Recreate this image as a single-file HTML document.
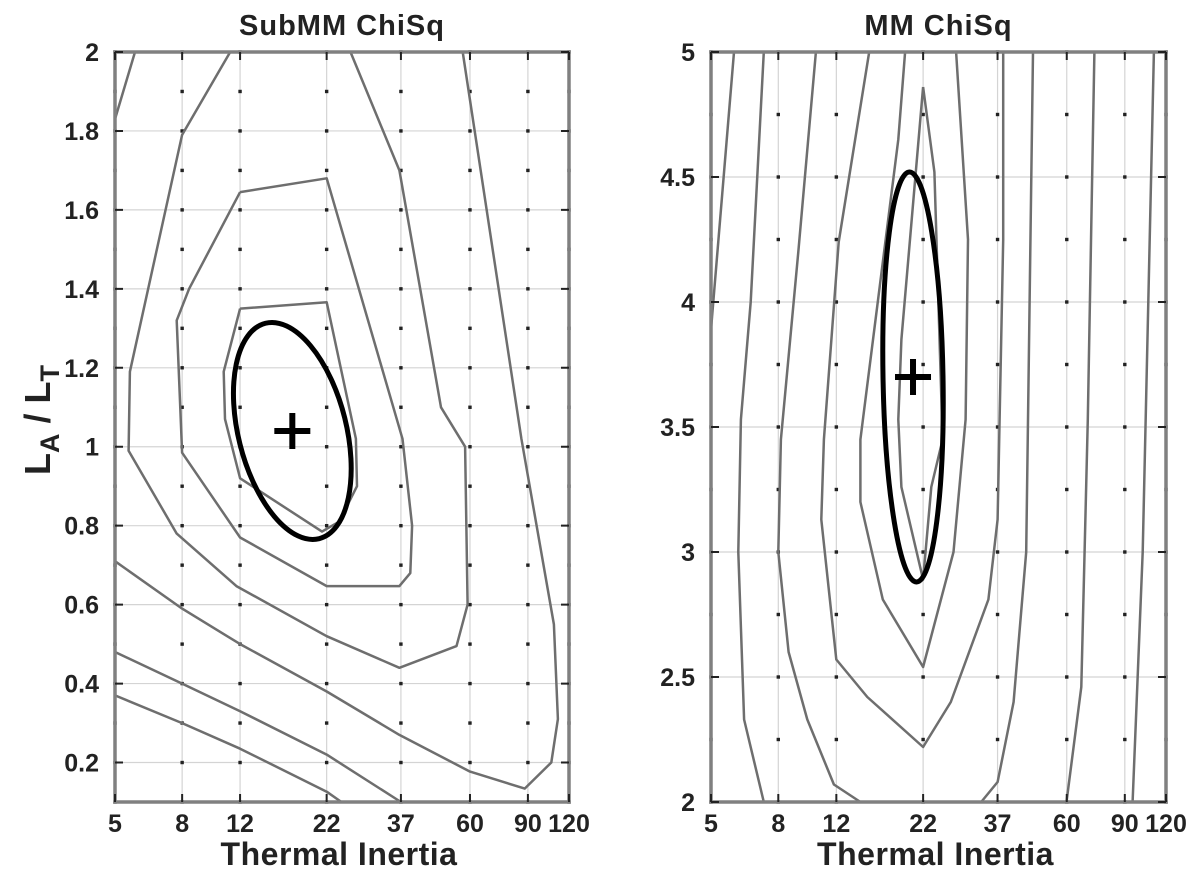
<!DOCTYPE html>
<html><head><meta charset="utf-8"><style>
html,body{margin:0;padding:0;background:#fff}
svg{display:block}
text{font-family:"Liberation Sans",Arial,sans-serif;font-weight:bold;fill:#222}
</style></head><body>
<svg id="chart" width="1200" height="876" viewBox="0 0 1200 876"></svg>
<script>
const xTicks = [5, 8, 12, 22, 37, 60, 90, 120];
const leftYTicks = [0.2, 0.4, 0.6, 0.8, 1, 1.2, 1.4, 1.6, 1.8, 2];
const rightYTicks = [2, 2.5, 3, 3.5, 4, 4.5, 5];
// SubMM contours: arrays of [thermal inertia, LA/LT]
const subA = [[5.75,2],[5,1.83]];
const subB = [[11.2,2],[8,1.79],[5.55,1.19],[5.5,0.99],[7.7,0.78],[11.7,0.647],[22,0.52],[36.6,0.44],[54.6,0.495],[59,0.6],[58,1.0],[49,1.1],[36.6,1.7],[26,2]];
const subC = [[12,1.645],[22,1.68],[37.4,1.02],[40,0.8],[39.5,0.68],[36.6,0.647],[22,0.647],[12,0.77],[8,0.985],[7.7,1.32],[8.4,1.4],[12,1.645]];
const subD = [[12,1.35],[22,1.366],[27,1.02],[27.2,0.9],[24,0.81],[21.3,0.785],[12,0.92],[10.8,1.07],[10.7,1.19],[12,1.35]];
const subE = [[5,0.71],[8,0.59],[12,0.5],[22,0.38],[36.6,0.27],[60,0.177],[88,0.134],[106,0.2],[111,0.31],[108,0.55],[86,1.02],[57,2]];
const subF = [[5,0.48],[8,0.4],[12,0.33],[22,0.22],[37,0.1]];
const subG = [[5,0.37],[8,0.3],[12,0.235],[22,0.126],[24.4,0.1]];
const subContours = [subA, subB, subC, subD, subE, subF, subG];
const subBest = [17.3, 1.04];
const subEllipse = [17.3, 1.04, 111, 54, 14]; // center TI, center y, semi-major px, semi-minor px, tilt deg
// MM contours
const mmR1 = [[5.87,5],[5,3.89]];
const mmR2 = [[7.23,5],[6.6,4.0],[6.16,3.53],[6.05,3.0],[6.3,2.33],[7.23,2]];
const mmR3 = [[10.4,5],[9.2,4.2],[8.15,3.45],[8.0,3.0],[8.6,2.6],[9.8,2.33],[11.8,2.07],[14.2,2]];
const mmR4 = [[15.1,5],[12.2,4.24],[11.0,3.45],[10.8,3.13],[12.0,2.57],[14.9,2.42],[22,2.22],[26.7,2.4],[34.7,2.81],[37,3.13],[38.5,4.25],[38.5,5]];
const mmR5 = [[19.4,5],[18.5,4.65],[14.2,3.45],[14.2,3.2],[16.6,2.81],[22,2.54],[27.2,3.0],[29.6,3.53],[30.1,4.25],[27.7,5]];
const mmR6 = [[22,4.86],[18.9,3.85],[18.5,3.53],[18.9,3.26],[22,2.89],[23.3,3.26],[25.2,3.45],[23.8,4.52],[22,4.86]];
const mmR7 = [[47.4,5],[45.2,3.0],[41.4,2.4],[37,2.08],[33,2]];
const mmR8 = [[72.8,5],[69.5,3.53],[66.4,2.46],[59.9,2]];
const mmR9 = [[110.3,5],[102,3.0],[95,2]];
const mmContours = [mmR1, mmR2, mmR3, mmR4, mmR5, mmR6, mmR7, mmR8, mmR9];
const mmBest = [20.5, 3.70];
const mmEllipse = [20.5, 3.70, 205, 30, 1];

const NS = "http://www.w3.org/2000/svg";
const svg = document.getElementById('chart');
function mk(tag, attrs, parent){const e=document.createElementNS(NS,tag);for(const k in attrs)e.setAttribute(k,attrs[k]);(parent||svg).appendChild(e);return e;}

function panel(cfg){
  const {x0,x1,y0,y1,ymin,ymax,yticks,dotStep,contours,best,ell,title,name} = cfg;
  const g = mk('g',{});
  
  
  const lx0=Math.log(5), lx1=Math.log(120);
  const X = v => x0 + (Math.log(v)-lx0)/(lx1-lx0)*(x1-x0);
  const Y = v => y1 - (v-ymin)/(ymax-ymin)*(y1-y0);
  xTicks.forEach(t=>{const l=mk('line',{x1:X(t),x2:X(t),y1:y0,y2:y1,stroke:'#d4d4d4','stroke-width':1.2},g);
    });
  yticks.forEach(t=>{const l=mk('line',{x1:x0,x2:x1,y1:Y(t),y2:Y(t),stroke:'#d4d4d4','stroke-width':1.2},g);
    });
  for(let v=ymin; v<=ymax+1e-9; v+=dotStep){
    xTicks.forEach(t=>{const d=mk('rect',{x:X(t)-1.7,y:Y(v)-1.7,width:3.4,height:3.4,fill:'#222'},g);
      });
  }
  contours.forEach(c=>{
    const p=mk('polyline',{points:c.map(q=>X(q[0]).toFixed(1)+','+Y(q[1]).toFixed(1)).join(' '),fill:'none',stroke:'#6e6e6e','stroke-width':2.5,'stroke-linejoin':'round'},g);
    
  });
  const cx=X(ell[0]), cy=Y(ell[1]);
  const e=mk('ellipse',{cx:cx,cy:cy,rx:ell[3],ry:ell[2],fill:'none',stroke:'#000','stroke-width':5,transform:`rotate(${-ell[4]} ${cx} ${cy})`},g);
  
  const bx=X(best[0]), by=Y(best[1]);
  const pl=mk('path',{d:`M${bx-18},${by}H${bx+18}M${bx},${by-18}V${by+18}`,stroke:'#000','stroke-width':6},g);
  
  const fr=mk('rect',{x:x0,y:y0,width:x1-x0,height:y1-y0,fill:'none',stroke:'#808080','stroke-width':3.5},g);
  
  yticks.forEach(t=>{mk('path',{d:`M${x0},${Y(t)}h8M${x1},${Y(t)}h-8`,stroke:'#222','stroke-width':2},g);
    const tx=mk('text',{x:x0-16,y:Y(t)+9,'text-anchor':'end','font-size':25},g);tx.textContent=String(t);
    });
  xTicks.forEach(t=>{mk('path',{d:`M${X(t)},${y1}v-8M${X(t)},${y0}v8`,stroke:'#222','stroke-width':2},g);
    const tx=mk('text',{x:X(t),y:y1+30,'text-anchor':'middle','font-size':25},g);tx.textContent=String(t);
    });
  const tt=mk('text',{x:(x0+x1)/2,y:y0-17,'text-anchor':'middle','font-size':29,'letter-spacing':1},g);tt.textContent=title;
  
  const xl=mk('text',{x:(x0+x1)/2-3,y:y1+63,'text-anchor':'middle','font-size':32,'letter-spacing':0.5},g);xl.textContent='Thermal Inertia';
  
}
panel({x0:115,x1:569,y0:52,y1:802,ymin:0.1,ymax:2,yticks:leftYTicks,dotStep:0.1,contours:subContours,best:subBest,ell:subEllipse,title:'SubMM ChiSq',name:'submm-panel'});
panel({x0:711,x1:1166,y0:52,y1:802,ymin:2,ymax:5,yticks:rightYTicks,dotStep:0.25,contours:mmContours,best:mmBest,ell:mmEllipse,title:'MM ChiSq',name:'mm-panel'});
const yl=mk('text',{transform:'translate(50,420) rotate(-90)','text-anchor':'middle','font-size':36});


yl.innerHTML='L<tspan font-size="27" dy="9">A</tspan><tspan dy="-9"> / L</tspan><tspan font-size="27" dy="9">T</tspan>';
</script>
</body></html>
